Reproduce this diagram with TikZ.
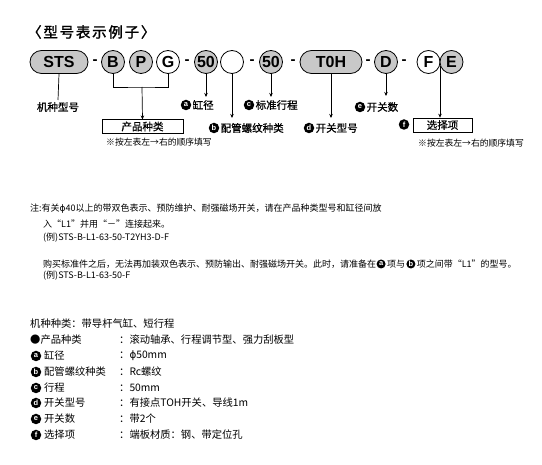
\documentclass[tikz,border=0pt]{standalone}
\usepackage{fontspec}
\setmainfont{Noto Sans CJK SC}
\newfontfamily\latf{Liberation Sans}
\newfontfamily\dvf{DejaVu Sans}
\newfontfamily\titlef[LetterSpace=12,FakeBold=1.6]{Noto Sans CJK SC}
\newfontfamily\labf[FakeBold=0.9]{Noto Sans CJK SC}
\usetikzlibrary{arrows.meta,shapes.misc}
\definecolor{codegray}{RGB}{200,200,200}
\begin{document}
\begin{tikzpicture}[x=1pt,y=-1pt,
  code/.style={circle,draw,line width=0.8pt,minimum size=23pt,inner sep=0pt,font=\latf\bfseries\fontsize{16}{16}\selectfont},
  pill/.style={rounded rectangle,draw,line width=0.8pt,minimum height=23pt,inner sep=0pt,font=\latf\bfseries\fontsize{16}{16}\selectfont,fill=codegray},
  gr/.style={fill=codegray},
  dsh/.style={font=\latf\bfseries\fontsize{15}{15}\selectfont,inner sep=0pt},
  mk/.style={circle,fill=black,text=white,inner sep=0pt,minimum size=10.5pt,font=\latf\bfseries\fontsize{7.5}{7.5}\selectfont},
  lab/.style={inner sep=0pt,anchor=west,font=\labf\fontsize{10.5}{12}\selectfont},
  box/.style={draw,line width=0.6pt,inner sep=0pt,font=\labf\fontsize{10.5}{12}\selectfont},
  small/.style={inner sep=0pt,anchor=west,font=\fontsize{8.8}{10}\selectfont},
  note/.style={inner sep=0pt,anchor=west,font=\fontsize{9}{10}\selectfont},
  lst/.style={inner sep=0pt,anchor=west,font=\fontsize{10.3}{12}\selectfont},
  conn/.style={line width=0.7pt},
  arr/.style={line width=0.7pt,-{Stealth[length=4pt,width=3.5pt]}}]
\useasboundingbox (0,0) rectangle (542,465);

% title
\node[inner sep=0pt,anchor=west,font=\titlef\fontsize{14.5}{16}\selectfont] (title) at (27,32) {〈型号表示例子〉};

% code row
\node[pill,minimum width=58pt] (sts) at (59,62) {STS};
\node[dsh] (d1) at (95,62) {-};
\node[code,gr] (cb) at (113,62) {B};
\node[code,gr] (cp) at (141,62) {P};
\node[code] (cg) at (168,62) {G};
\node[dsh] (d2) at (187,62) {-};
\node[code,gr] (bore) at (206,62) {50};
\node[code] (pipe) at (232,62) {};
\node[dsh] (d3) at (252,62) {-};
\node[code,gr] (strk) at (271,62) {50};
\node[dsh] (d4) at (293,62) {-};
\node[pill,minimum width=62pt] (sw) at (331,62) {T0H};
\node[dsh] (d5) at (368,62) {-};
\node[code,gr] (swn) at (386,62) {D};
\node[dsh] (d6) at (404,62) {-};
\node[code] (cf) at (428.5,62) {F};
\node[code,gr] (ce) at (451.5,62) {E};

% STS label
\node[lab,anchor=center] (kind) at (58,107) {机种型号};
\draw[conn] (sts.south) -- (58,100);

% product type bracket
\coordinate (brm) at (142,87);
\draw[conn] (cb.south) |- (brm) -| (cg.south);
\node[box,minimum width=81pt,minimum height=13.5pt] (prod) at (142.5,126.5) {产品种类};
\draw[arr] (brm) -- (prod.north);
\node[small] (hint1) at (106,142.5) {※按左表左→右的顺序填写};

% a bore
\node[mk] (ma) at (186,105) {a};
\node[lab] (ta) at (192.5,105) {缸径};
\draw[arr] (bore.south) -- (206,97);

% b pipe
\node[mk] (mb) at (214,128) {b};
\node[lab] (tb) at (220.5,128) {配管螺纹种类};
\draw[arr] (pipe.south) -- (232,118);

% c stroke
\node[mk] (mc) at (249,105) {c};
\node[lab] (tc) at (255.5,105) {标准行程};
\draw[arr] (strk.south) -- (271,97);

% d switch
\node[mk] (md) at (309,128) {d};
\node[lab] (td) at (315.5,128) {开关型号};
\draw[arr] (sw.south) -- (331,118);

% e switch number
\node[mk] (me) at (360,107) {e};
\node[lab] (te) at (366.5,107) {开关数};
\draw[arr] (swn.south) -- (386,96);

% f options
\node[box,minimum width=59pt,minimum height=14pt] (sel) at (442.5,125) {选择项};
\node[mk] (mf) at (404,124.5) {f};
\coordinate (ftop) at (440,66);
\draw[arr] (ftop) -- (ftop |- sel.north);
\node[small] (hint2) at (418,143) {※按左表左→右的顺序填写};

% notes
\node[note] (n1) at (30,209) {注:有关{\dvf ϕ}40以上的带双色表示、预防维护、耐强磁场开关，请在产品种类型号和缸径间放};
\node[note] (n2) at (43,224) {入“L1”并用“－”连接起来。};
\node[note] (n3) at (43,238) {(例)STS-B-L1-63-50-T2YH3-D-F};
\node[note] (n4a) at (43,264) {购买标准件之后，无法再加装双色表示、预防输出、耐强磁场开关。此时，请准备在};
\node[mk,anchor=west,minimum size=9pt] (n4b) at (n4a.east) {a};
\node[note] (n4c) at ([xshift=1pt]n4b.east) {项与};
\node[mk,anchor=west,minimum size=9pt] (n4d) at ([xshift=1pt]n4c.east) {b};
\node[note] (n4e) at ([xshift=1pt]n4d.east) {项之间带“L1”的型号。};
\node[note] (n5) at (43,276) {(例)STS-B-L1-63-50-F};

% list
\node[lst] (l0) at (30,324) {机种种类：带导杆气缸、短行程};
\node[lst] (l1) at (30,340) {●产品种类};
\node[lst] (v1) at (119,340) {：滚动轴承、行程调节型、强力刮板型};
\foreach \y/\m/\t/\v [count=\i] in {356/a/缸径/{：{\dvf ϕ}50mm},372/b/配管螺纹种类/：Rc螺纹,388/c/行程/：50mm,403/d/开关型号/：有接点TOH开关、导线1m,419/e/开关数/：带2个,435/f/选择项/：端板材质：钢、带定位孔}{
  \node[mk] (lm\i) at (36,\y) {\m};
  \node[lst] (lt\i) at (44,\y) {\t};
  \node[lst] (lv\i) at (119,\y) {\v};
}
\end{tikzpicture}
\end{document}
